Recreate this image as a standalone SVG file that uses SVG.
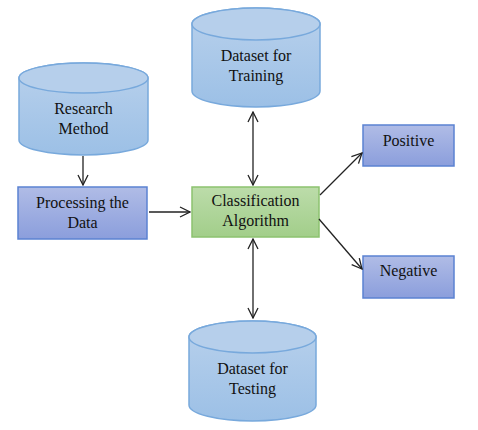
<svg xmlns="http://www.w3.org/2000/svg" width="478" height="430" viewBox="0 0 478 430">
<defs>
<linearGradient id="gCyl" x1="0" y1="0" x2="0" y2="1"><stop offset="0" stop-color="#b9d1ec"/><stop offset="1" stop-color="#9cc0e6"/></linearGradient>
<linearGradient id="gBlue" x1="0" y1="0" x2="0" y2="1"><stop offset="0" stop-color="#b0bce6"/><stop offset="1" stop-color="#8b9edc"/></linearGradient>
<linearGradient id="gGreen" x1="0" y1="0" x2="0" y2="1"><stop offset="0" stop-color="#bcdcaa"/><stop offset="1" stop-color="#a2ce8a"/></linearGradient>
<marker id="arr" viewBox="0 0 12 12" refX="11" refY="6" markerWidth="12" markerHeight="12" markerUnits="userSpaceOnUse" orient="auto-start-reverse">
<path d="M1,1 L11,6 L1,11" fill="none" stroke="#222" stroke-width="1.3"/>
</marker>
<style>
.cyl{fill:url(#gCyl);stroke:#78a9dc;stroke-width:1.5}
.cylTop{fill:#b6cfeb;stroke:#78a9dc;stroke-width:1.5}
.blue{fill:url(#gBlue);stroke:#5b82d2;stroke-width:1.5}
.green{fill:url(#gGreen);stroke:#8cc26f;stroke-width:1.5}
text{font-family:'Liberation Serif','DejaVu Serif',serif;font-size:16px;fill:#111;text-anchor:middle}
.conn line{stroke:#222;stroke-width:1.3;fill:none}
</style>
</defs>
<rect width="478" height="430" fill="#fff"/>
<g id="research-method">
<path class="cyl" d="M19,78 A64.5,15 0 0 1 148,78 L148,140 A64.5,15 0 0 1 19,140 Z"/>
<ellipse class="cylTop" cx="83.5" cy="78" rx="64.5" ry="15"/>
<text x="83.5" y="114" font-family="Liberation Serif">Research</text>
<text x="83.5" y="134" font-family="Liberation Serif">Method</text>
</g>
<g id="dataset-training">
<path class="cyl" d="M192,24 A64,16 0 0 1 320,24 L320,91 A64,16 0 0 1 192,91 Z"/>
<ellipse class="cylTop" cx="256" cy="24" rx="64" ry="16"/>
<text x="256" y="61">Dataset for</text>
<text x="256" y="81">Training</text>
</g>
<g id="processing">
<rect class="blue" x="18" y="187" width="129" height="52"/>
<text x="82.5" y="208">Processing the</text>
<text x="82.5" y="228">Data</text>
</g>
<g id="classification">
<rect class="green" x="192" y="187" width="127" height="50"/>
<text x="255.5" y="206">Classification</text>
<text x="255.5" y="226">Algorithm</text>
</g>
<g id="positive">
<rect class="blue" x="363" y="125" width="91" height="41"/>
<text x="408.5" y="146">Positive</text>
</g>
<g id="negative">
<rect class="blue" x="363" y="256" width="91" height="42"/>
<text x="408.5" y="276">Negative</text>
</g>
<g id="dataset-testing">
<path class="cyl" d="M189,337 A63.5,16 0 0 1 316,337 L316,405 A63.5,16 0 0 1 189,405 Z"/>
<ellipse class="cylTop" cx="252.5" cy="337" rx="63.5" ry="16"/>
<text x="252.5" y="374">Dataset for</text>
<text x="252.5" y="394">Testing</text>
</g>
<g id="connectors" class="conn">
<line x1="83" y1="156" x2="83" y2="185" marker-end="url(#arr)"/>
<line x1="149" y1="212" x2="190" y2="212" marker-end="url(#arr)"/>
<line x1="253" y1="112" x2="253" y2="185" marker-start="url(#arr)" marker-end="url(#arr)"/>
<line x1="253" y1="239" x2="253" y2="318" marker-start="url(#arr)" marker-end="url(#arr)"/>
<line x1="320" y1="195" x2="362" y2="153" marker-end="url(#arr)"/>
<line x1="319" y1="219" x2="362" y2="269" marker-end="url(#arr)"/>
</g>
</svg>
